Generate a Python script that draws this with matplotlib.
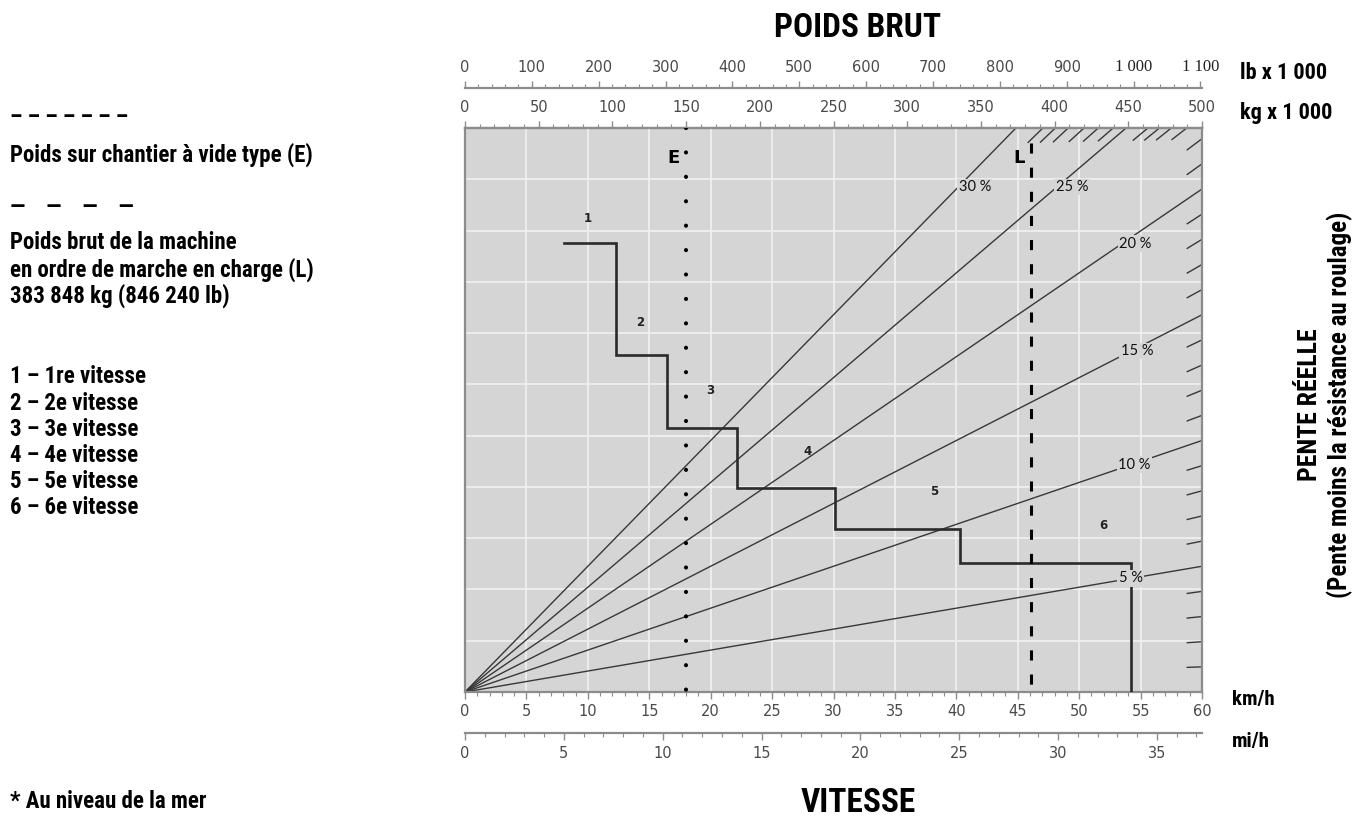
import numpy as np
import matplotlib
matplotlib.use("Agg")
import matplotlib.pyplot as plt
from matplotlib.ticker import MultipleLocator


# gear steps (km/h span and rimpull in kN)
gear_names = ["1", "2", "3", "4", "5", "6"]
gear_start_kmh = [8.1, 12.3, 16.45, 22.15, 30.1, 40.3]
gear_end_kmh = [12.3, 16.45, 22.15, 30.1, 40.3, 54.2]
gear_rimpull_kn = [876, 657, 514, 397, 317, 251]
gear_label_kmh = [10.0, 14.25, 20.0, 27.85, 38.2, 52.0]
gear_label_kn = [924, 720, 589, 470, 392, 324]

# total resistance lines (grade %)
grades = [5, 10, 15, 20, 25, 30]
grade_labels = ["5 %", "10 %", "15 %", "20 %", "25 %", "30 %"]
grade_label_kmh = [54.2, 54.5, 54.7, 54.6, 49.4, 41.5]
grade_label_kn = [222, 443, 665, 874, 985, 985]
side_tick_grades = [1, 2, 3, 4, 6, 7, 8, 9, 11, 12, 13, 14, 16, 17, 18, 19, 21, 22]
top_tick_grades = [22.9, 23.4, 23.8, 24.2, 25.5, 26.1, 26.7, 27.4, 28.0, 28.6]

# weights (kg x 1000)
empty_weight_t = 150
loaded_weight_t = 383.848

legend_lines = [
    "1 – 1re vitesse",
    "2 – 2e vitesse",
    "3 – 3e vitesse",
    "4 – 4e vitesse",
    "5 – 5e vitesse",
    "6 – 6e vitesse",
]

W_MAX = 500.0
V_MAX = 60.0
BG = "#d5d5d5"
SPINE = "#8c8c8c"
TXT = "#4a4a4a"
NARROW = ["Roboto Condensed", "Asap Condensed", "Archivo Narrow", "DejaVu Sans"]


def t2kmh(w):
    return np.asarray(w) * V_MAX / W_MAX


def kmh2t(v):
    return np.asarray(v) * W_MAX / V_MAX


def rimpull(w, g):
    return np.asarray(w) * 9.81 * g / 100.0


fig = plt.figure(figsize=(13.53, 8.24), dpi=100)
ax = fig.add_axes([465 / 1353, 132 / 824, 737 / 1353, 564 / 824])
ax.set_facecolor(BG)
ax.set_xlim(0, V_MAX)
ax.set_ylim(0, 1100)
ax.xaxis.set_major_locator(MultipleLocator(5))
ax.xaxis.set_minor_locator(MultipleLocator(1))
ax.set_yticks(np.arange(0, 1101, 100))
ax.tick_params(axis="y", left=False, labelleft=False)
ax.grid(True, which="major", color="#efefef", lw=1.3)
ax.set_axisbelow(True)
for s in ax.spines.values():
    s.set_color(SPINE)
    s.set_linewidth(1.6)
ax.tick_params(axis="x", which="major", direction="out", length=5, width=1,
               color=SPINE, labelsize=10.5, labelcolor=TXT, pad=4)
ax.tick_params(axis="x", which="minor", direction="out", length=3, width=0.8,
               color=SPINE)

# grade lines from origin
for g in grades:
    w = np.array([0, W_MAX])
    ax.plot(t2kmh(w), rimpull(w, g), color="#383838", lw=1.0, zorder=2)

# short grade ticks on the right and top edges
for g in side_tick_grades:
    w = np.array([W_MAX - 10, W_MAX])
    ax.plot(t2kmh(w), rimpull(w, g), color="#383838", lw=1.0, zorder=2)
for g in top_tick_grades:
    w_top = 1100 / (9.81 * g / 100)
    w = np.array([w_top - 10, w_top])
    ax.plot(t2kmh(w), rimpull(w, g), color="#383838", lw=1.0, zorder=2,
            clip_on=False)

# gear step curve
xs, ys = [], []
for a, b, r in zip(gear_start_kmh, gear_end_kmh, gear_rimpull_kn):
    xs += [a, b]
    ys += [r, r]
xs.append(gear_end_kmh[-1])
ys.append(0)
ax.plot(xs, ys, color="#2a2a2a", lw=1.9, zorder=3, solid_joinstyle="miter")

for name, x, y in zip(gear_names, gear_label_kmh, gear_label_kn):
    ax.text(x, y, name, fontsize=8.5, fontweight="bold", color="#222",
            ha="center", va="center")

for lab, x, y in zip(grade_labels, grade_label_kmh, grade_label_kn):
    ax.text(x, y, lab, fontsize=10.5, family=["Lato", "DejaVu Sans"], color="#111",
            ha="center", va="center", zorder=5,
            bbox=dict(facecolor=BG, edgecolor="none", pad=1.0))

# E and L weight lines
ex = float(t2kmh(empty_weight_t))
ax.plot([ex, ex], [1100, 0], color="black", lw=3.0, zorder=4,
        linestyle=(0, (0.01, 5.85)), dash_capstyle="round")
ax.text(ex - 1.05, 1041, "E", fontsize=13, fontweight="bold", ha="center", va="center")

lx = float(t2kmh(loaded_weight_t))
ax.plot([lx, lx], [1071, 0], color="black", lw=2.2, zorder=4,
        linestyle=(0, (3.3, 4.6)), dash_capstyle="butt")
ax.text(lx - 0.95, 1041, "L", fontsize=13, fontweight="bold", ha="center", va="center")

# weight scales on top
kg_ax = ax.secondary_xaxis("top", functions=(kmh2t, t2kmh))
kg_ax.xaxis.set_major_locator(MultipleLocator(50))
kg_ax.xaxis.set_minor_locator(MultipleLocator(10))
kg_ax.tick_params(which="major", direction="out", length=5, width=1, color=SPINE,
                  labelsize=10.5, labelcolor=TXT, pad=4)
kg_ax.tick_params(which="minor", direction="out", length=3, width=0.8, color=SPINE)
for s in kg_ax.spines.values():
    s.set_color(SPINE)
    s.set_linewidth(1.6)

LB_PER_T = 1 / 0.45359237
lb_ax = ax.secondary_xaxis(1 + 40 / 564,
                           functions=(lambda v: kmh2t(v) * LB_PER_T,
                                      lambda lb: t2kmh(np.asarray(lb) / LB_PER_T)))
lb_ticks = list(range(0, 1101, 100))
lb_labels = [str(t) for t in lb_ticks[:-2]] + ["1 000", "1 100"]
lb_ax.set_xticks(lb_ticks, lb_labels)
lb_ax.xaxis.set_minor_locator(MultipleLocator(20))
lb_ax.tick_params(which="major", direction="out", length=5, width=1, color=SPINE,
                  labelsize=10.5, labelcolor=TXT, pad=4)
lb_ax.tick_params(which="minor", direction="out", length=3, width=0.8, color=SPINE)
for s in lb_ax.spines.values():
    s.set_color(SPINE)
    s.set_linewidth(1.6)
for t in lb_ax.get_xticklabels()[-2:]:
    t.set_fontfamily("Liberation Serif")
    t.set_fontsize(12)
    t.set_color("#222")

# speed scale in mi/h
mph_ax = ax.secondary_xaxis(-41 / 564,
                            functions=(lambda v: np.asarray(v) / 1.609344,
                                       lambda m: np.asarray(m) * 1.609344))
mph_ax.xaxis.set_major_locator(MultipleLocator(5))
mph_ax.xaxis.set_minor_locator(MultipleLocator(1))
mph_ax.tick_params(which="major", direction="out", length=5, width=1, color=SPINE,
                   labelsize=10.5, labelcolor=TXT, pad=4)
mph_ax.tick_params(which="minor", direction="out", length=3, width=0.8, color=SPINE)
for s in mph_ax.spines.values():
    s.set_color(SPINE)
    s.set_linewidth(1.6)


def ftext(x, y, s, **kw):
    kw.setdefault("family", NARROW)
    kw.setdefault("fontweight", "bold")
    fig.text(x / 1353, 1 - y / 824, s, **kw)


ftext(858, 28, "POIDS BRUT", fontsize=24, ha="center", va="center")
ftext(858, 803, "VITESSE", fontsize=24, ha="center", va="center")
ftext(1240, 73, "lb x 1 000", fontsize=16, ha="left", va="center")
ftext(1240, 113, "kg x 1 000", fontsize=16, ha="left", va="center")
ftext(1232, 700, "km/h", fontsize=15, ha="left", va="center")
ftext(1232, 742, "mi/h", fontsize=15, ha="left", va="center")
ftext(1310, 405, "PENTE RÉELLE", fontsize=18.5, rotation=90, ha="center", va="center")
ftext(1340, 405, "(Pente moins la résistance au roulage)", fontsize=18,
      rotation=90, ha="center", va="center")

LEFT_FS = 16.5
ftext(10, 118, "– – – – – – –", fontsize=LEFT_FS, ha="left", va="center")
ftext(10, 155, "Poids sur chantier à vide type (E)", fontsize=LEFT_FS, ha="left", va="center")
ftext(10, 208, "—    —    —    —", fontsize=LEFT_FS, ha="left", va="center")
ftext(10, 243, "Poids brut de la machine", fontsize=LEFT_FS, ha="left", va="center")
ftext(10, 270, "en ordre de marche en charge (L)", fontsize=LEFT_FS, ha="left", va="center")
ftext(10, 296, "383 848 kg (846 240 lb)", fontsize=LEFT_FS, ha="left", va="center")
for i, s in enumerate(legend_lines):
    ftext(10, 377 + i * 26.2, s, fontsize=LEFT_FS, ha="left", va="center")
ftext(10, 802, "* Au niveau de la mer", fontsize=LEFT_FS, ha="left", va="center")

fig.savefig("out.png", dpi=100)
